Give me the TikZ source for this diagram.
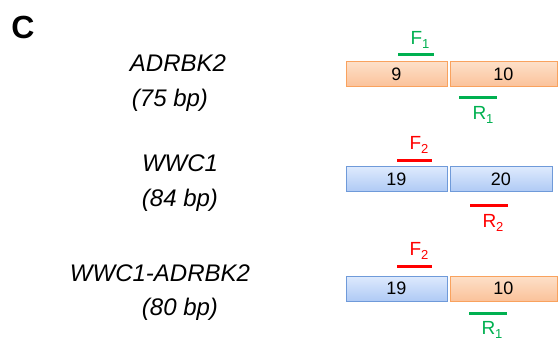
\documentclass[tikz,border=0pt]{standalone}
\usepackage{fontspec}
\setmainfont{Liberation Sans}
\definecolor{orTop}{HTML}{FDE0C9}
\definecolor{orBot}{HTML}{FBC29A}
\definecolor{orLine}{HTML}{F9A25E}
\definecolor{blTop}{HTML}{DEEAFD}
\definecolor{blBot}{HTML}{AFCAF5}
\definecolor{blLine}{HTML}{6F9AD9}
\definecolor{prGreen}{HTML}{00B050}
\definecolor{prRed}{HTML}{FF0000}
\newcommand{\primlab}[2]{#1{\fontsize{13}{13}\selectfont\raisebox{-4.5pt}{#2}}}
\begin{document}
\begin{tikzpicture}[x=1pt,y=-1pt,
  exon/.style={draw, line width=0.9pt, inner sep=0pt, minimum height=25pt,
     font=\fontsize{18}{18}\selectfont, text=black},
  orexon/.style={exon, draw=orLine, top color=orTop, bottom color=orBot},
  blexon/.style={exon, draw=blLine, top color=blTop, bottom color=blBot},
  gene/.style={anchor=base, inner sep=0pt, font=\fontsize{24}{24}\selectfont\itshape},
  primer/.style={line width=3pt},
  plab/.style={inner sep=0pt, font=\fontsize{19}{19}\selectfont}]
\useasboundingbox (0,0) rectangle (558,340);
\node[inner sep=0pt, font=\fontsize{32}{32}\selectfont\bfseries] (C) at (23,27) {C};
% row 1
\node[gene] (g1) at (178,71) {ADRBK2};
\node[gene] (b1) at (170,106) {(75 bp)};
\node[orexon, minimum width=101pt] (e9) at (396.5,74) {9};
\node[orexon, minimum width=107pt] (e10) at (503.5,74) {10};
\draw[primer, prGreen] (398,54) -- (434,54);
\node[plab, text=prGreen] (f1) at (420,40) {\primlab{F}{1}};
\draw[primer, prGreen] (459,97) -- (497,97);
\node[plab, text=prGreen] (r1) at (483,115) {\primlab{R}{1}};
% row 2
\node[gene] (g2) at (180,171) {WWC1};
\node[gene] (b2) at (180,206) {(84 bp)};
\node[blexon, minimum width=101pt] (e19a) at (396.5,179) {19};
\node[blexon, minimum width=102pt] (e20) at (501,179) {20};
\draw[primer, prRed] (397,160) -- (432,160);
\node[plab, text=prRed] (f2) at (419,145) {\primlab{F}{2}};
\draw[primer, prRed] (470,205) -- (508,205);
\node[plab, text=prRed] (r2) at (493,223) {\primlab{R}{2}};
% row 3
\node[gene] (g3) at (160,281) {WWC1-ADRBK2};
\node[gene] (b3) at (180,315) {(80 bp)};
\node[blexon, minimum width=101pt] (e19b) at (396.5,288.5) {19};
\node[orexon, minimum width=107pt] (e10b) at (503.5,288.5) {10};
\draw[primer, prRed] (397,266) -- (432,266);
\node[plab, text=prRed] (f3) at (419,251) {\primlab{F}{2}};
\draw[primer, prGreen] (469,313) -- (507,313);
\node[plab, text=prGreen] (r3) at (492,330) {\primlab{R}{1}};
\end{tikzpicture}
\end{document}
